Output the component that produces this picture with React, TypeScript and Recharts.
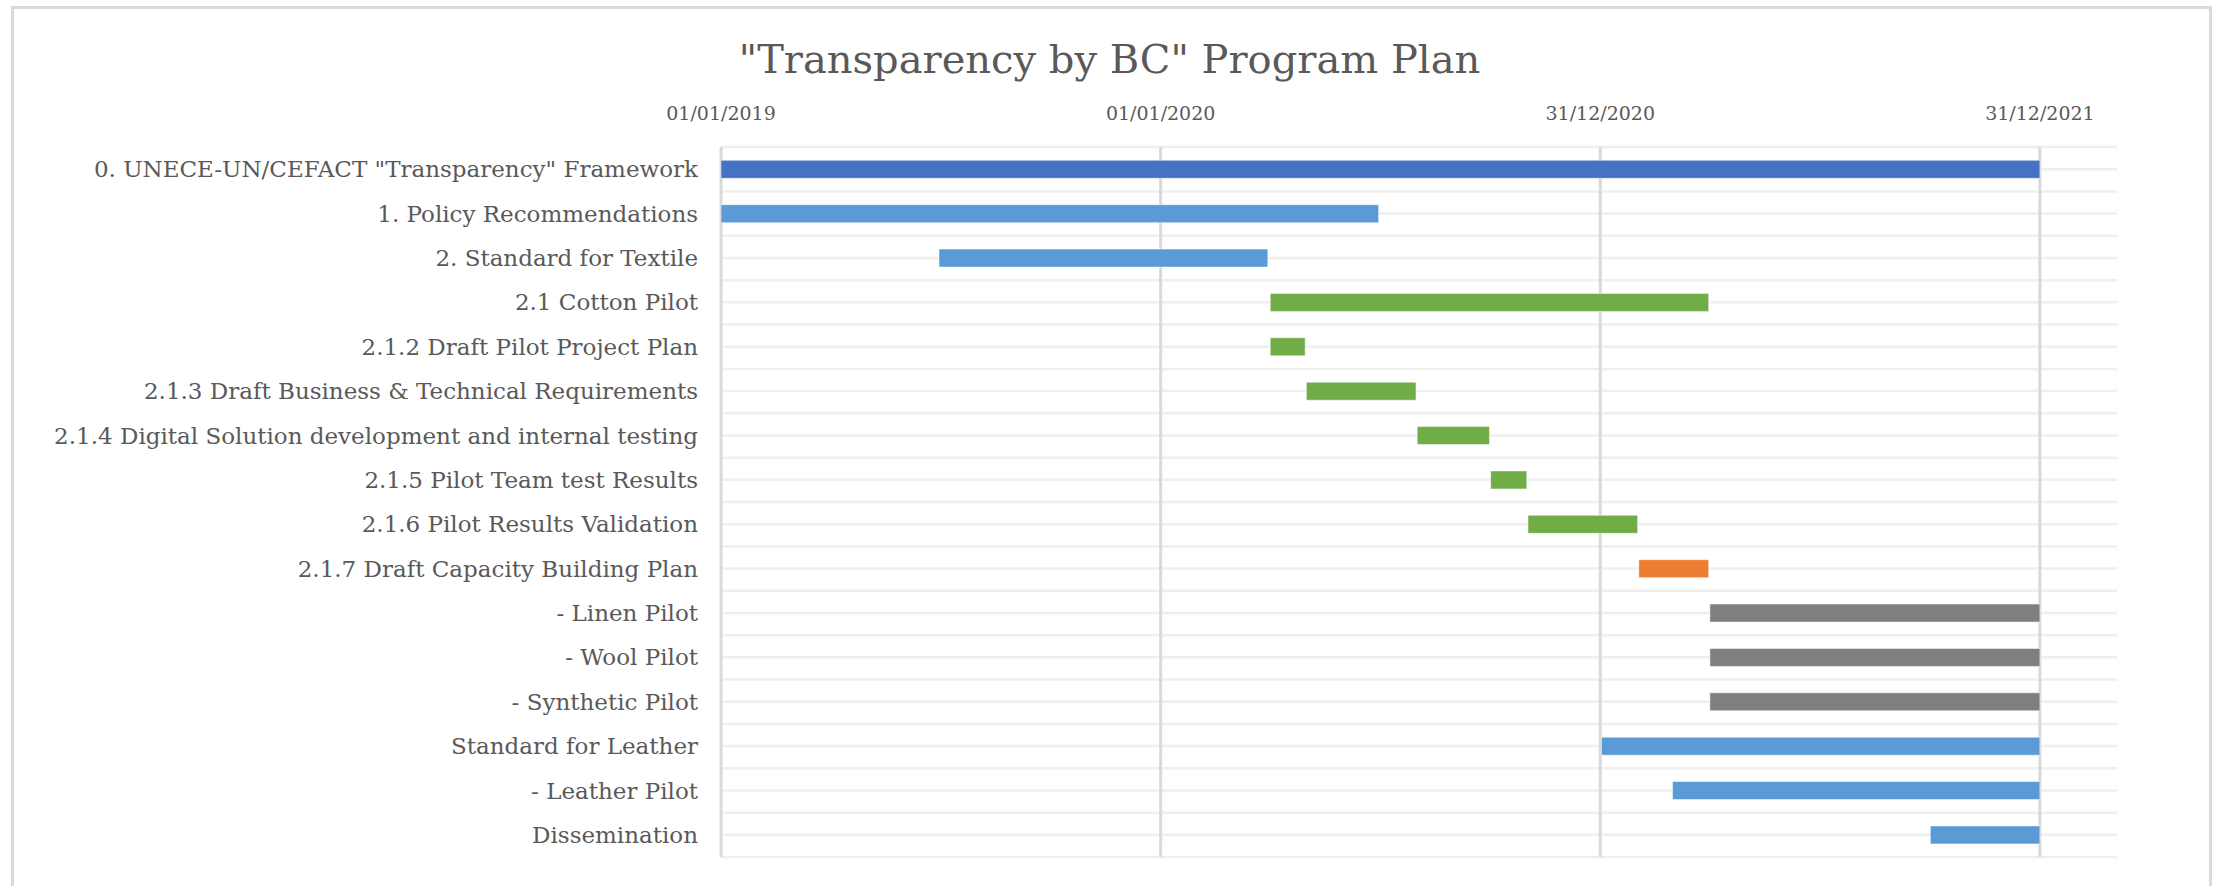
import { BarChart, Bar, XAxis, YAxis, CartesianGrid, Cell } from 'recharts';

const TASKS = [
  '0. UNECE-UN/CEFACT "Transparency" Framework',
  '1. Policy Recommendations',
  '2. Standard for Textile',
  '2.1 Cotton Pilot',
  '2.1.2 Draft Pilot Project Plan',
  '2.1.3 Draft Business & Technical Requirements',
  '2.1.4 Digital Solution development and internal testing',
  '2.1.5 Pilot Team test Results',
  '2.1.6 Pilot Results Validation',
  '2.1.7 Draft Capacity Building Plan',
  '- Linen Pilot',
  '- Wool Pilot',
  '- Synthetic Pilot',
  'Standard for Leather',
  '- Leather Pilot',
  'Dissemination',
];

const START_DATES = [
  '2019-01-01', '2019-01-01', '2019-07-01', '2020-04-01', '2020-04-01', '2020-05-01',
  '2020-08-01', '2020-10-01', '2020-11-01', '2021-02-01', '2021-04-01', '2021-04-01',
  '2021-04-01', '2021-01-01', '2021-03-01', '2021-10-01',
];

const END_DATES = [
  '2021-12-31', '2020-06-30', '2020-03-30', '2021-03-31', '2020-04-30', '2020-07-31',
  '2020-09-30', '2020-10-31', '2021-01-31', '2021-03-31', '2021-12-31', '2021-12-31',
  '2021-12-31', '2021-12-31', '2021-12-31', '2021-12-31',
];

const GROUPS = [
  'framework', 'work', 'work', 'cotton', 'cotton', 'cotton', 'cotton', 'cotton',
  'cotton', 'capacity', 'pilots', 'pilots', 'pilots', 'work', 'work', 'work',
];

const AXIS_START = '2019-01-01';
const AXIS_TICKS = ['2019-01-01', '2020-01-01', '2020-12-31', '2021-12-31'];
const AXIS_END = '2022-03-05';

const GROUP_COLORS: Record<string, string> = {
  framework: '#4472C4',
  work: '#5B9BD5',
  cotton: '#70AD47',
  capacity: '#ED7D31',
  pilots: '#7F7F7F',
};

const DAY = 86400000;
const toDay = (d: string) => Math.round((Date.parse(d) - Date.parse(AXIS_START)) / DAY);

const formatDate = (v: number) => {
  const d = new Date(Date.parse(AXIS_START) + v * DAY);
  const dd = String(d.getUTCDate()).padStart(2, '0');
  const mm = String(d.getUTCMonth() + 1).padStart(2, '0');
  return `${dd}/${mm}/${d.getUTCFullYear()}`;
};

const data = TASKS.map((task, i) => ({
  task,
  offset: toDay(START_DATES[i]),
  duration: toDay(END_DATES[i]) - toDay(START_DATES[i]),
  group: GROUPS[i],
}));

const FONT = "'DejaVu Serif', serif";
const MAX_DAY = toDay(AXIS_END);

export default function App() {
  return (
    <div
      style={{
        position: 'absolute',
        left: 0,
        top: 0,
        width: 2219,
        height: 886,
        background: '#fff',
        overflow: 'hidden',
      }}
    >
      <div
        style={{
          position: 'absolute',
          left: 11,
          top: 6,
          width: 2201,
          height: 920,
          border: '3px solid #d9d9d9',
          boxSizing: 'border-box',
        }}
      />
      <div
        style={{
          position: 'absolute',
          left: 0,
          width: 2219,
          top: 34,
          textAlign: 'center',
          fontFamily: FONT,
          fontSize: 40,
          color: '#595959',
          lineHeight: '50px',
        }}
      >
        "Transparency by BC" Program Plan
      </div>
      <div style={{ position: 'absolute', left: 0, top: 0 }}>
        <BarChart
          width={2219}
          height={886}
          data={data}
          layout="vertical"
          barCategoryGap="30%"
          margin={{ top: 107, right: 102, bottom: 29, left: 0 }}
        >
          <CartesianGrid
            vertical={false}
            stroke="#efefef"
            strokeWidth={2.5}
            horizontalCoordinatesGenerator={({ offset }: any) =>
              Array.from({ length: TASKS.length * 2 + 1 }, (_, k) => offset.top + (k * offset.height) / (TASKS.length * 2))
            }
          />
          <CartesianGrid
            horizontal={false}
            stroke="#d9d9d9"
            strokeWidth={3}
            verticalCoordinatesGenerator={({ offset }: any) =>
              AXIS_TICKS.map((t) => offset.left + (toDay(t) / MAX_DAY) * offset.width)
            }
          />
          <XAxis
            type="number"
            orientation="top"
            domain={[0, MAX_DAY]}
            ticks={AXIS_TICKS.map(toDay)}
            tickFormatter={formatDate}
            allowDataOverflow
            axisLine={false}
            tickLine={false}
            tickSize={0}
            tickMargin={27}
            height={40}
            tick={{ fontFamily: FONT, fontSize: 19, fill: '#595959' }}
          />
          <YAxis
            type="category"
            dataKey="task"
            width={721}
            axisLine={false}
            tickLine={false}
            tickSize={0}
            tickMargin={23}
            interval={0}
            tick={{ fontFamily: FONT, fontSize: 23, fill: '#595959' }}
          />
          <Bar dataKey="offset" stackId="a" fill="transparent" isAnimationActive={false} />
          <Bar
            dataKey="duration"
            stackId="a"
            isAnimationActive={false}
            stroke="#ffffff"
            strokeOpacity={0.5}
            strokeWidth={1}
          >
            {data.map((d) => (
              <Cell key={d.task} fill={GROUP_COLORS[d.group]} />
            ))}
          </Bar>
        </BarChart>
      </div>
    </div>
  );
}
